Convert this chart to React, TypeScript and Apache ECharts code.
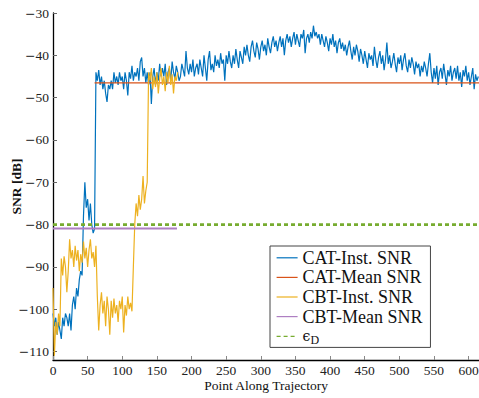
import React, { useEffect, useRef } from "react";
import * as echarts from "echarts";

// CAT-Inst. SNR, sampled every 2 points along the trajectory (x = 0, 2, 4, ...)
const catStep = 2;
const catInst: number[] = [
  -101, -104, -102, -106, -103, -105, -107, -102, -104, -101,
  -102, -104, -101, -105, -99, -97, -100, -95, -97, -93,
  -91, -92, -78, -70, -76, -74, -79, -75, -80, -82,
  -81, -44, -46, -43.5, -47, -45, -48, -46, -49, -51,
  -47, -48, -46, -48, -44, -46.5, -45, -47, -44, -46,
  -45, -48, -44, -46, -49.5, -44, -45.5, -42.5, -46, -44,
  -45, -43, -46, -41.5, -40.5, -45, -43, -46.5, -44, -47,
  -44, -51.5, -45, -43, -47, -44, -46, -42, -45, -43,
  -45, -42, -47, -44, -43, -46, -41.5, -44, -45.5, -42.5,
  -44, -46, -45, -42, -43.5, -45, -39, -43, -44.5, -42,
  -44, -41, -45, -43, -42, -44.5, -41, -43, -45, -40,
  -43, -46, -41, -39, -43.5, -42, -44, -40, -42.5, -41,
  -43, -39.5, -42, -41, -46, -40, -42, -39, -41.5, -43,
  -40, -42, -38.5, -41, -43, -39, -40.5, -42, -38, -40,
  -37.5, -40, -41.5, -38, -36.5, -39, -40.5, -37, -38.5, -41,
  -38, -36.5, -39, -37.5, -40, -36, -38, -39.5, -37, -35.5,
  -38, -36.5, -39, -37, -35.5, -38, -36, -40, -36.5, -35,
  -37, -35.5, -38, -36, -34.5, -37.5, -35, -36.5, -38, -35,
  -36, -34, -39.5, -36, -35, -37, -34.5, -36, -33, -35.5,
  -34.5, -36, -35, -37.5, -35, -36.5, -38, -35.5, -37, -39,
  -36, -37.5, -35, -38, -36.5, -39.5, -37, -36, -38.5, -37,
  -39, -37.5, -40, -38, -36.5, -39, -41, -38, -40, -37.5,
  -39, -41.5, -38.5, -40, -42, -39, -41, -43, -39.5, -41,
  -40, -42.5, -38, -41, -43, -40.5, -39, -42, -40, -43.5,
  -41, -37, -42, -40, -43, -41.5, -39.5, -42, -44, -40.5,
  -42, -40, -43.5, -41, -39.5, -42.5, -44, -41, -43, -40.5,
  -42, -44.5, -41.5, -43, -42, -45, -42.5, -44, -41.5, -43,
  -45, -42, -39.5, -44, -46.5, -43, -45.5, -42.5, -47, -44,
  -43, -45.5, -42, -44.5, -47, -43.5, -45, -42.5, -46, -44,
  -43, -45.5, -42.5, -46, -44, -47.5, -43.5, -45, -42.5, -46,
  -44, -47, -45, -43, -48, -44.5, -46, -45,
];

// CBT-Inst. SNR, sampled every 2 points (x = 0 .. 180)
const cbtStep = 2;
const cbtInst: number[] = [
  -95, -111, -103, -106, -101, -104, -88, -92, -87.5, -90,
  -96, -91, -83.5, -88, -86, -90, -85, -88.5, -86, -91,
  -87, -89, -84, -88, -85.5, -90, -86, -83.5, -88, -86.5,
  -90, -85, -97, -105, -99, -96, -101, -98, -104, -97,
  -100, -106, -98, -102, -97.5, -101, -99, -103, -98, -100,
  -97, -105.5, -99, -101.5, -97, -100, -98.5, -100.5, -90, -80,
  -75, -78, -73, -76.5, -74, -68.5, -75, -72, -70, -44,
  -46, -43, -48, -45, -47.5, -44, -49, -45.5, -43, -47,
  -45, -48.5, -44, -46.5, -42.5, -47, -44.5, -49, -45, -46, -44,
];

const catMeanValue = -46.5;
const catMeanRange = [60, 615];
const cbtMeanValue = -80.9;
const cbtMeanRange = [0, 179];
const epsValue = -80;
const epsRange = [0, 615];

const yTicks = [-110, -100, -90, -80, -70, -60, -50, -40, -30];

const names = ["CAT-Inst. SNR", "CAT-Mean SNR", "CBT-Inst. SNR", "CBT-Mean SNR", "eps"];

const serif = "Liberation Serif";

export default function App() {
  const ref = useRef<HTMLDivElement>(null);
  useEffect(() => {
    document.body.style.margin = "0";
    const chart = echarts.init(ref.current!, null, { renderer: "svg" });
    const catData = catInst.map((v, i) => [i * catStep, v]);
    const cbtData = cbtInst.map((v, i) => [i * cbtStep, v]);
    const fmtY = (v: number) => (v < 0 ? "{m|\u2212}{t|" + Math.abs(v) + "}" : "{t|" + v + "}");
    const fmtX = (v: number) => "{t|" + v + "}";
    const tickRich = {
      t: { fontFamily: serif, fontSize: 13.5, color: "#222" },
      m: { fontFamily: "DejaVu Serif", fontSize: 12.5, color: "#222" },
    };
    chart.setOption({
      animation: false,
      backgroundColor: "#ffffff",
      textStyle: { fontFamily: serif },
      grid: { left: 53, right: 0, top: 13, bottom: 38, containLabel: false, outerBoundsMode: "none" },
      xAxis: {
        type: "value",
        min: 0,
        max: 615,
        interval: 50,
        name: "{n|Point Along Trajectory}",
        nameLocation: "middle",
        nameGap: 18,
        nameMoveOverlap: false,
        nameTextStyle: {
          fontFamily: serif,
          fontSize: 13.5,
          color: "#111",
          rich: { n: { fontFamily: serif, fontSize: 13.5, color: "#111" } },
        },
        axisLine: { show: true, onZero: false, lineStyle: { color: "#000", width: 1.3 } },
        axisTick: { show: true, inside: true, length: 4, lineStyle: { color: "#888" } },
        axisLabel: { fontFamily: serif, fontSize: 13.5, color: "#222", margin: 3, showMaxLabel: false, formatter: fmtX, rich: tickRich },
        splitLine: { show: false },
      },
      yAxis: {
        type: "value",
        min: -112,
        max: -30,
        name: "{n|SNR [dB]}",
        nameLocation: "middle",
        nameGap: 30,
        nameMoveOverlap: false,
        nameTextStyle: {
          fontFamily: serif,
          fontSize: 13.5,
          fontWeight: "bold",
          color: "#111",
          rich: { n: { fontFamily: serif, fontSize: 13.5, fontWeight: "bold", color: "#111" } },
        },
        axisLine: { show: true, onZero: false, lineStyle: { color: "#000", width: 1.3 } },
        axisTick: { show: true, inside: true, length: 4, customValues: yTicks, lineStyle: { color: "#666" } },
        axisLabel: { fontFamily: serif, fontSize: 13.5, color: "#222", margin: 4, customValues: yTicks, formatter: fmtY, rich: tickRich },
        splitLine: { show: false },
      },
      legend: {
        data: names,
        orient: "vertical",
        left: 270,
        top: 246,
        padding: [2, 8, 1, 6],
        itemGap: 0,
        itemWidth: 21,
        itemHeight: 10,
        borderColor: "#444",
        borderWidth: 1,
        backgroundColor: "#fff",
        itemStyle: { opacity: 0 },
        lineStyle: { width: 1.2 },
        formatter: (n: string) => (n === "eps" ? "{e|\u03F5}{s|D}" : n),
        textStyle: {
          fontFamily: serif,
          fontSize: 18,
          lineHeight: 19.6,
          color: "#111",
          rich: {
            e: { fontFamily: "DejaVu Serif", fontSize: 14, lineHeight: 19.6, color: "#111" },
            s: { fontFamily: serif, fontSize: 12, lineHeight: 19.6, padding: [8, 0, 0, 0], color: "#111" },
          },
        },
      },
      series: [
        {
          name: names[0],
          type: "line",
          data: catData,
          showSymbol: false,
          symbol: "none",
          lineStyle: { color: "#0072BD", width: 1.2 },
          itemStyle: { color: "#0072BD" },
        },
        {
          name: names[1],
          type: "line",
          data: [[catMeanRange[0], catMeanValue], [catMeanRange[1], catMeanValue]],
          showSymbol: false,
          symbol: "none",
          lineStyle: { color: "#D95319", width: 1.2 },
          itemStyle: { color: "#D95319" },
        },
        {
          name: names[2],
          type: "line",
          data: cbtData,
          showSymbol: false,
          symbol: "none",
          lineStyle: { color: "#EDB120", width: 1.2 },
          itemStyle: { color: "#EDB120" },
        },
        {
          name: names[3],
          type: "line",
          data: [[cbtMeanRange[0], cbtMeanValue], [cbtMeanRange[1], cbtMeanValue]],
          showSymbol: false,
          symbol: "none",
          lineStyle: { color: "#AE7FC2", width: 2 },
          itemStyle: { color: "#AE7FC2" },
        },
        {
          name: names[4],
          type: "line",
          data: [[epsRange[0], epsValue], [epsRange[1], epsValue]],
          showSymbol: false,
          symbol: "none",
          lineStyle: { color: "#77AC30", width: 2.6, type: [4, 3] },
          itemStyle: { color: "#77AC30" },
        },
      ],
    });
    return () => chart.dispose();
  }, []);
  return <div ref={ref} style={{ width: 479, height: 398 }} />;
}
